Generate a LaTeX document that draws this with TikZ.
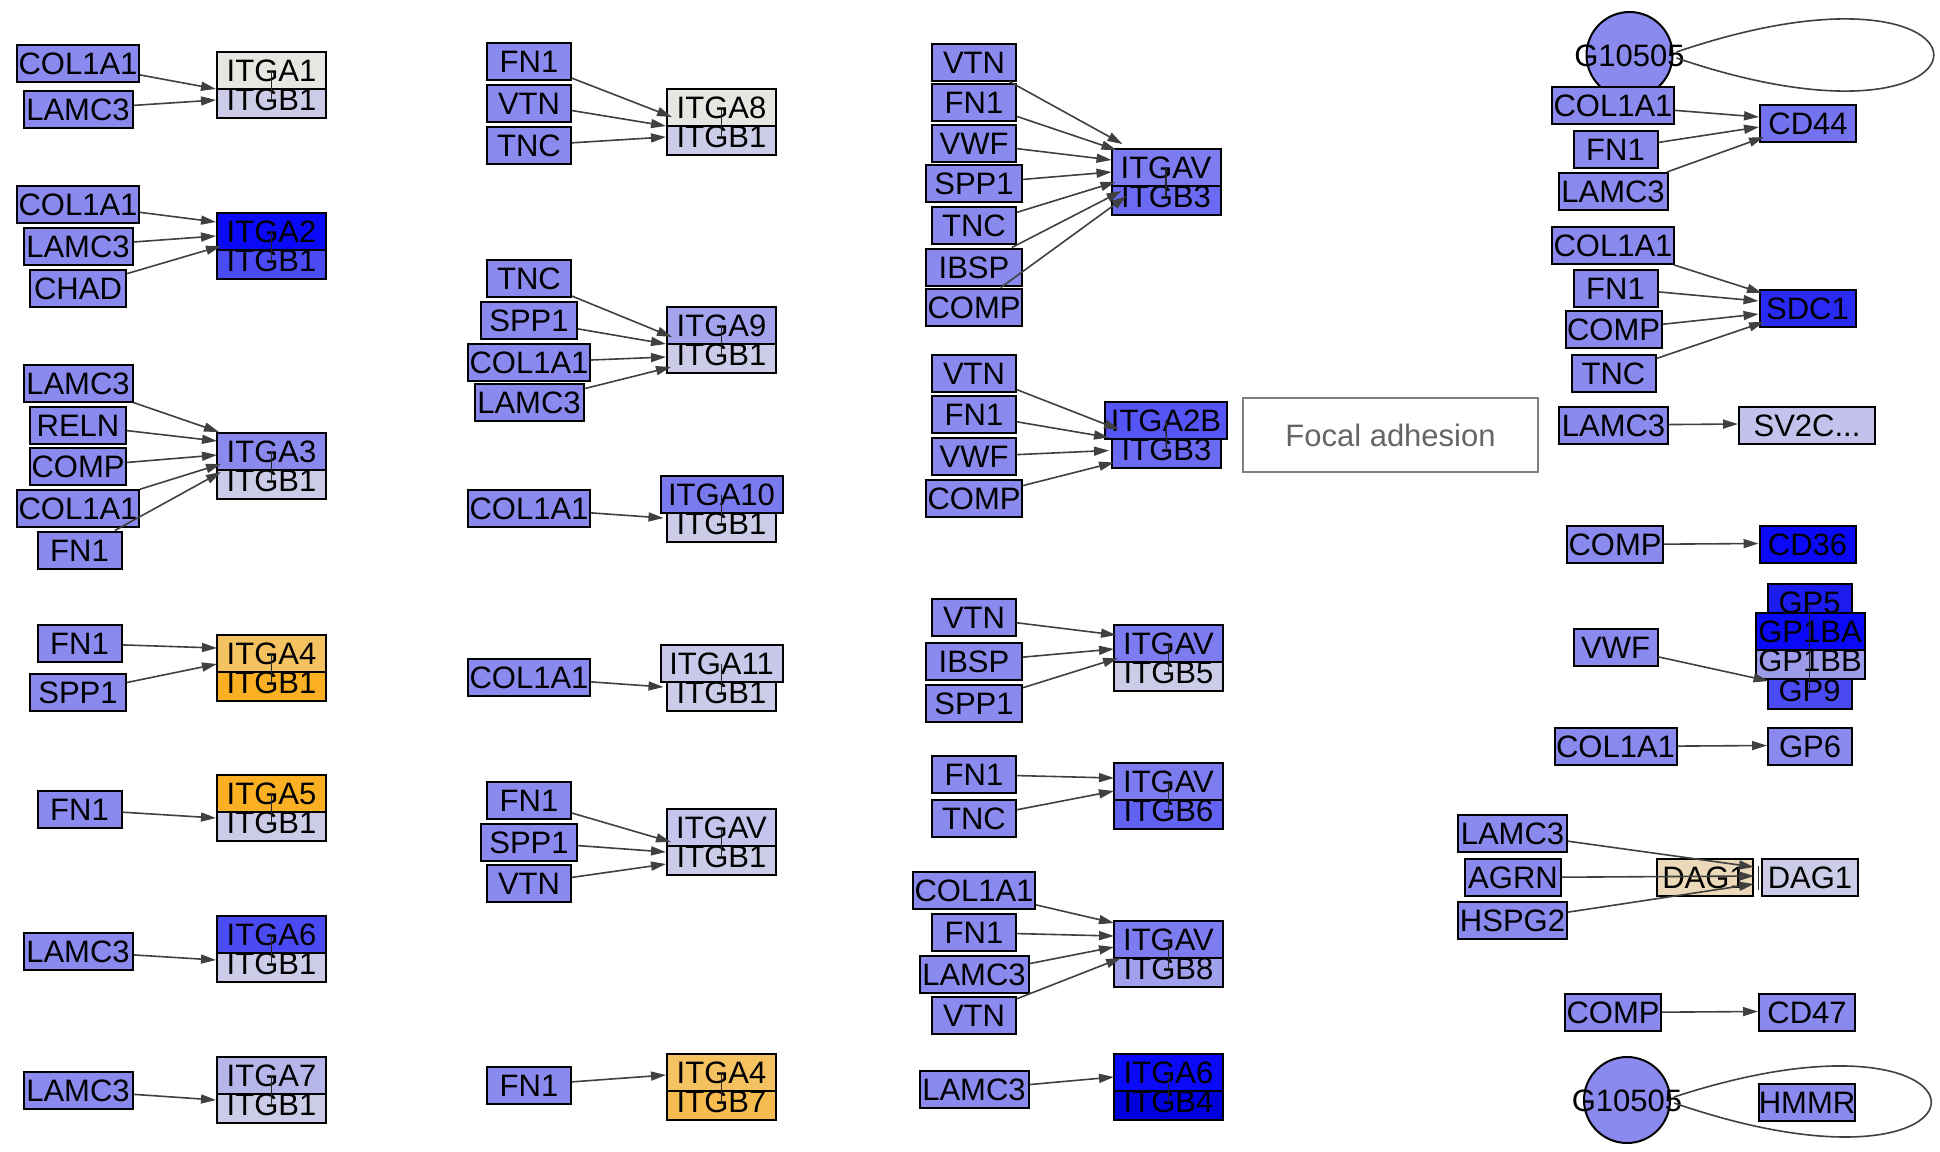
\documentclass[tikz,border=0pt]{standalone}
\usepackage{fontspec}
\setmainfont{Liberation Sans}
\usetikzlibrary{arrows.meta}

\definecolor{srcBlue}{HTML}{8A8AEE}
\definecolor{paleBlue}{HTML}{CCCCE8}
\definecolor{paleGray}{HTML}{E6E6E2}
\definecolor{deepBlue}{HTML}{0A0AF8}
\definecolor{midBlue}{HTML}{4B4BF5}
\definecolor{lilac}{HTML}{B6B6EA}
\definecolor{orangeA}{HTML}{FBB024}
\definecolor{orangeL}{HTML}{F5C262}
\definecolor{orangeM}{HTML}{F6BC50}
\definecolor{itgaNine}{HTML}{A3A3EE}
\definecolor{itgaTen}{HTML}{7A7AEF}
\definecolor{itgaEleven}{HTML}{C8C8EA}
\definecolor{itgavPale}{HTML}{C4C4EC}
\definecolor{itgav}{HTML}{7C7CF0}
\definecolor{itgbThree}{HTML}{6A6AF2}
\definecolor{itgaTwoB}{HTML}{5555F6}
\definecolor{itgbSix}{HTML}{6262F2}
\definecolor{itgbEight}{HTML}{A0A0EC}
\definecolor{itgbFour}{HTML}{0000DD}
\definecolor{cdFortyFour}{HTML}{7373F0}
\definecolor{sdcOne}{HTML}{2A2AF6}
\definecolor{svTwoC}{HTML}{C2C2EC}
\definecolor{gpFive}{HTML}{1C1CF0}
\definecolor{gpOneBB}{HTML}{9C9CEA}
\definecolor{dagTan}{HTML}{EBD9B9}
\definecolor{edgeGray}{HTML}{404040}
\definecolor{mapGray}{HTML}{808080}

\begin{document}
\begin{tikzpicture}[x=1pt, y=-1pt,
        every node/.style={font=\fontsize{31pt}{37pt}\selectfont}]
        \tikzstyle{geneStyle} = [rectangle, draw=black, line width=2pt, fill=srcBlue,
            minimum height=37pt, inner sep=0pt, text height=22pt, text depth=0pt]
        \tikzstyle{wS} = [minimum width=84pt]
        \tikzstyle{wM} = [minimum width=96pt]
        \tikzstyle{wL} = [minimum width=109pt]
        \tikzstyle{wX} = [minimum width=122pt]
        \tikzstyle{cpdStyle} = [circle, draw=black, line width=2pt, fill=srcBlue,
            minimum size=86pt, inner sep=0pt, text height=22pt, text depth=0pt]
        \tikzstyle{mapStyle} = [rectangle, draw=mapGray, line width=2pt, fill=white,
            text=black!60, minimum width=295pt, minimum height=74pt]
        \tikzstyle{arrowEdge} = [draw=edgeGray, line width=1.6pt,
            -{Triangle[length=15pt,width=9pt]}]
        \tikzstyle{linkEdge} = [draw=black!85, line width=1.5pt]
        \tikzstyle{loopEdge} = [draw=edgeGray, line width=1.6pt]
        \path[use as bounding box, fill=white] (0,0) rectangle (1940,1151);
        % column 1
        \node[geneStyle, wX] (a1col) at (78,63.5) {COL1A1};
        \node[geneStyle, wL] (a1lam) at (78,109) {LAMC3};
        \node[geneStyle, wL, fill=paleBlue] (a1be) at (271.5,99.5) {ITGB1};
        \node[geneStyle, wL, fill=paleGray] (a1al) at (271.5,70.5) {ITGA1};
        \node[geneStyle, wX] (a2col) at (78,204.5) {COL1A1};
        \node[geneStyle, wL] (a2lam) at (78,246) {LAMC3};
        \node[geneStyle, wM] (a2cha) at (78,288) {CHAD};
        \node[geneStyle, wL, fill=midBlue] (a2be) at (271.5,260.5) {ITGB1};
        \node[geneStyle, wL, fill=deepBlue] (a2al) at (271.5,231.5) {ITGA2};
        \node[geneStyle, wL] (a3lam) at (78,383.5) {LAMC3};
        \node[geneStyle, wM] (a3rel) at (78,425) {RELN};
        \node[geneStyle, wM] (a3com) at (78,466.5) {COMP};
        \node[geneStyle, wX] (a3col) at (78,508.5) {COL1A1};
        \node[geneStyle, wS] (a3fn) at (79.5,550) {FN1};
        \node[geneStyle, wL, fill=paleBlue] (a3be) at (271.5,480.5) {ITGB1};
        \node[geneStyle, wL] (a3al) at (271.5,451.5) {ITGA3};
        \node[geneStyle, wS] (a4fn) at (79.5,643.5) {FN1};
        \node[geneStyle, wM] (a4spp) at (78,692.5) {SPP1};
        \node[geneStyle, wL, fill=orangeA] (a4be) at (271.5,682.5) {ITGB1};
        \node[geneStyle, wL, fill=orangeL] (a4al) at (271.5,653.5) {ITGA4};
        \node[geneStyle, wS] (a5fn) at (79.5,809.5) {FN1};
        \node[geneStyle, wL, fill=paleBlue] (a5be) at (271.5,822.5) {ITGB1};
        \node[geneStyle, wL, fill=orangeA] (a5al) at (271.5,793.5) {ITGA5};
        \node[geneStyle, wL] (a6lam) at (78,951.5) {LAMC3};
        \node[geneStyle, wL, fill=paleBlue] (a6be) at (271.5,963.5) {ITGB1};
        \node[geneStyle, wL, fill=midBlue] (a6al) at (271.5,934.5) {ITGA6};
        \node[geneStyle, wL] (a7lam) at (78,1090.5) {LAMC3};
        \node[geneStyle, wL, fill=paleBlue] (a7be) at (271.5,1104.5) {ITGB1};
        \node[geneStyle, wL, fill=lilac] (a7al) at (271.5,1075.5) {ITGA7};
        % column 2
        \node[geneStyle, wS] (b8fn) at (529,61.5) {FN1};
        \node[geneStyle, wS] (b8vtn) at (529,103.5) {VTN};
        \node[geneStyle, wS] (b8tnc) at (529,145.5) {TNC};
        \node[geneStyle, wL, fill=paleBlue] (b8be) at (721.5,136.5) {ITGB1};
        \node[geneStyle, wL, fill=paleGray] (b8al) at (721.5,107.5) {ITGA8};
        \node[geneStyle, wS] (b9tnc) at (529,278.5) {TNC};
        \node[geneStyle, wM] (b9spp) at (529,320.5) {SPP1};
        \node[geneStyle, wX] (b9col) at (529,362.5) {COL1A1};
        \node[geneStyle, wL] (b9lam) at (529,402.5) {LAMC3};
        \node[geneStyle, wL, fill=paleBlue] (b9be) at (721.5,354.5) {ITGB1};
        \node[geneStyle, wL, fill=itgaNine] (b9al) at (721.5,325.5) {ITGA9};
        \node[geneStyle, wX] (b10col) at (529,508.5) {COL1A1};
        \node[geneStyle, wL, fill=paleBlue] (b10be) at (721.5,523.5) {ITGB1};
        \node[geneStyle, wX, fill=itgaTen] (b10al) at (721.5,494.5) {ITGA10};
        \node[geneStyle, wX] (b11col) at (529,677.5) {COL1A1};
        \node[geneStyle, wL, fill=paleBlue] (b11be) at (721.5,692.5) {ITGB1};
        \node[geneStyle, wX, fill=itgaEleven] (b11al) at (721.5,663.5) {ITGA11};
        \node[geneStyle, wS] (bvfn) at (529,800.5) {FN1};
        \node[geneStyle, wM] (bvspp) at (529,842) {SPP1};
        \node[geneStyle, wS] (bvvtn) at (529,883.5) {VTN};
        \node[geneStyle, wL, fill=paleBlue] (bvbe) at (721.5,856.5) {ITGB1};
        \node[geneStyle, wL, fill=itgavPale] (bval) at (721.5,827.5) {ITGAV};
        \node[geneStyle, wS] (b7fn) at (529,1085) {FN1};
        \node[geneStyle, wL, fill=orangeM] (b7be) at (721.5,1101.5) {ITGB7};
        \node[geneStyle, wL, fill=orangeL] (b7al) at (721.5,1072.5) {ITGA4};
        % column 3
        \node[geneStyle, wS] (c3vtn) at (974,62) {VTN};
        \node[geneStyle, wS] (c3fn) at (974,102) {FN1};
        \node[geneStyle, wS] (c3vwf) at (974,143.5) {VWF};
        \node[geneStyle, wM] (c3spp) at (974,183.5) {SPP1};
        \node[geneStyle, wS] (c3tnc) at (974,225.5) {TNC};
        \node[geneStyle, wM] (c3ibs) at (974,267) {IBSP};
        \node[geneStyle, wM] (c3com) at (974,307) {COMP};
        \node[geneStyle, wL, fill=itgbThree] (c3be) at (1166,196.5) {ITGB3};
        \node[geneStyle, wL, fill=itgav] (c3al) at (1166,167.5) {ITGAV};
        \node[geneStyle, wS] (c2vtn) at (974,373) {VTN};
        \node[geneStyle, wS] (c2fn) at (974,414.5) {FN1};
        \node[geneStyle, wS] (c2vwf) at (974,456.5) {VWF};
        \node[geneStyle, wM] (c2com) at (974,498) {COMP};
        \node[geneStyle, wL, fill=itgbThree] (c2be) at (1166.5,449.5) {ITGB3};
        \node[geneStyle, wX, fill=itgaTwoB] (c2al) at (1166,420) {ITGA2B};
        \node[geneStyle, wS] (c5vtn) at (974,617.5) {VTN};
        \node[geneStyle, wM] (c5ibs) at (974,661.5) {IBSP};
        \node[geneStyle, wM] (c5spp) at (974,703) {SPP1};
        \node[geneStyle, wL, fill=paleBlue] (c5be) at (1168.5,672.5) {ITGB5};
        \node[geneStyle, wL, fill=itgav] (c5al) at (1168.5,643.5) {ITGAV};
        \node[geneStyle, wS] (c6fn) at (974,774.5) {FN1};
        \node[geneStyle, wS] (c6tnc) at (974,818) {TNC};
        \node[geneStyle, wL, fill=itgbSix] (c6be) at (1168.5,810.5) {ITGB6};
        \node[geneStyle, wL, fill=itgav] (c6al) at (1168.5,781.5) {ITGAV};
        \node[geneStyle, wX] (c8col) at (974,890.5) {COL1A1};
        \node[geneStyle, wS] (c8fn) at (974,932.5) {FN1};
        \node[geneStyle, wL] (c8lam) at (974,974.5) {LAMC3};
        \node[geneStyle, wS] (c8vtn) at (974,1015.5) {VTN};
        \node[geneStyle, wL, fill=itgbEight] (c8be) at (1168.5,968.5) {ITGB8};
        \node[geneStyle, wL, fill=itgav] (c8al) at (1168.5,939.5) {ITGAV};
        \node[geneStyle, wL] (c4lam) at (974,1089.5) {LAMC3};
        \node[geneStyle, wL, fill=itgbFour] (c4be) at (1168.5,1101.5) {ITGB4};
        \node[geneStyle, wL, fill=deepBlue] (c4al) at (1168.5,1072.5) {ITGA6};
        \node[mapStyle] (focal) at (1390.5,435) {Focal adhesion};
        % column 4
        \node[cpdStyle] (g1) at (1629.5,55) {\makebox[0pt]{G10505}};
        \node[geneStyle, wX] (d44col) at (1613,105.5) {COL1A1};
        \node[geneStyle, wS] (d44fn) at (1615.5,149) {FN1};
        \node[geneStyle, wL] (d44lam) at (1613,191.5) {LAMC3};
        \node[geneStyle, wM, fill=cdFortyFour] (d44) at (1808,123) {CD44};
        \node[geneStyle, wX] (dsdcol) at (1613,245.5) {COL1A1};
        \node[geneStyle, wS] (dsdfn) at (1615.5,288) {FN1};
        \node[geneStyle, wM] (dsdcom) at (1613.5,329.5) {COMP};
        \node[geneStyle, wS] (dsdtnc) at (1613.5,373) {TNC};
        \node[geneStyle, wM, fill=sdcOne] (dsd) at (1807.5,308.5) {SDC1};
        \node[geneStyle, wL] (dsvlam) at (1613.5,425) {LAMC3};
        \node[geneStyle, minimum width=136pt, fill=svTwoC] (dsv) at (1807,425) {SV2C...};
        \node[geneStyle, wM] (d36com) at (1615,544.5) {COMP};
        \node[geneStyle, wM, fill=deepBlue] (d36) at (1807.5,544.5) {CD36};
        \node[geneStyle, wS] (dgpvwf) at (1615.5,647.5) {VWF};
        \node[geneStyle, wS, fill=gpFive] (gp5) at (1809.5,602.5) {GP5};
        \node[geneStyle, wS, fill=midBlue] (gp9) at (1809.5,690.5) {GP9};
        \node[geneStyle, wL, fill=gpOneBB] (gp1bb) at (1810,660.5) {GP1BB};
        \node[geneStyle, wL, fill=deepBlue] (gp1ba) at (1810,631) {GP1BA};
        \node[geneStyle, wX] (dg6col) at (1615.5,746.5) {COL1A1};
        \node[geneStyle, wS] (dg6) at (1810,746.5) {GP6};
        \node[geneStyle, wL] (ddlam) at (1512.5,833.5) {LAMC3};
        \node[geneStyle, wM] (ddagr) at (1513,877.5) {AGRN};
        \node[geneStyle, wL] (ddhsp) at (1512.5,920.5) {HSPG2};
        \node[geneStyle, wM, fill=dagTan] (dagl) at (1704.5,877.5) {DAG1};
        \node[geneStyle, wM, fill=paleBlue] (dagr) at (1810,877.5) {DAG1};
        \node[geneStyle, wM] (d47com) at (1613,1012.5) {COMP};
        \node[geneStyle, wM] (d47) at (1807,1012.5) {CD47};
        \node[cpdStyle] (g2) at (1627,1100) {\makebox[0pt]{G10505}};
        \node[geneStyle, wM] (hmmr) at (1807,1102.5) {HMMR};
        % complex members
        \foreach \a/\b in {a1al/a1be, a2al/a2be, a3al/a3be, a4al/a4be, a5al/a5be,
            a6al/a6be, a7al/a7be, b8al/b8be, b9al/b9be, b10al/b10be, b11al/b11be,
            bval/bvbe, b7al/b7be, c3al/c3be, c2al/c2be, c5al/c5be, c6al/c6be,
            c8al/c8be, c4al/c4be, gp5/gp9}
            \draw[linkEdge] (\a.center) -- (\b.center);
        \draw[linkEdge] ([shift={(5,-12)}]dagl.east) -- ([shift={(5,12)}]dagl.east);
        % interactions
        \foreach \from/\to/\dx/\dy in {a1col/a1al/0/38, a1lam/a1al/0/49,
            a2col/a2al/0/10, a2lam/a2al/0/24, a2cha/a2al/5/34,
            a3lam/a3al/3/0, a3rel/a3al/1/9, a3com/a3al/1/23, a3col/a3al/5/32, a3fn/a3al/5/40,
            a4fn/a4al/1/14, a4spp/a4al/1/30, a5fn/a5al/0/44, a6lam/a6al/0/45, a7lam/a7al/0/44,
            b8fn/b8al/6/29, b8vtn/b8al/0/38, b8tnc/b8al/0/49,
            b9tnc/b9al/6/31, b9spp/b9al/0/38, b9col/b9al/0/51, b9lam/b9al/5/61,
            b10col/b10al/4/43, b11col/b11al/4/43,
            bvfn/bval/5/34, bvspp/bval/0/44, bvvtn/bval/0/56, b7fn/b7al/0/22}
            \draw[arrowEdge] (\from) -- ([shift={(\dx,\dy)}]\to.north west);
        \foreach \from/\to/\dx/\dy in {c3vtn/c3al/12/-4, c3fn/c3al/6/2, c3vwf/c3al/1/12,
            c3spp/c3al/1/24, c3tnc/c3al/5/34, c3ibs/c3al/11/43, c3com/c3al/16/48,
            c2vtn/c2al/15/29, c2fn/c2al/5/37, c2vwf/c2al/5/50, c2com/c2al/10/62,
            c5vtn/c5al/3/11, c5ibs/c5al/1/25, c5spp/c5al/5/34,
            c6fn/c6al/1/16, c6tnc/c6al/1/29,
            c8col/c8al/1/3, c8fn/c8al/1/16, c8lam/c8al/1/27, c8vtn/c8al/8/38,
            c4lam/c4al/1/24}
            \draw[arrowEdge] (\from) -- ([shift={(\dx,\dy)}]\to.north west);
        \foreach \from/\to/\dx/\dy in {d44col/d44/0/13.5, d44fn/d44/0/23.5, d44lam/d44/5/33.5,
            dsdcol/dsd/3.5/4, dsdfn/dsd/0/12, dsdcom/dsd/0/25, dsdtnc/dsd/5.5/33,
            dsvlam/dsv/0/18.5, d36com/d36/0/18.5, dgpvwf/gp9/2/10, dg6col/dg6/0/18.5,
            ddlam/dagl/98.5/9, ddagr/dagl/98.5/18, ddhsp/dagl/98.5/26, d47com/d47/0/18.5}
            \draw[arrowEdge] (\from) -- ([shift={(\dx,\dy)}]\to.north west);
        \draw[loopEdge] ([shift={(3,-3)}]g1.east) .. controls +(343,-117) and +(343,117) .. ([shift={(3,3)}]g1.east);
        \draw[loopEdge] ([shift={(3,-3)}]g2.east) .. controls +(343,-112) and +(343,118) .. ([shift={(3,3)}]g2.east);
    \end{tikzpicture}
\end{document}
